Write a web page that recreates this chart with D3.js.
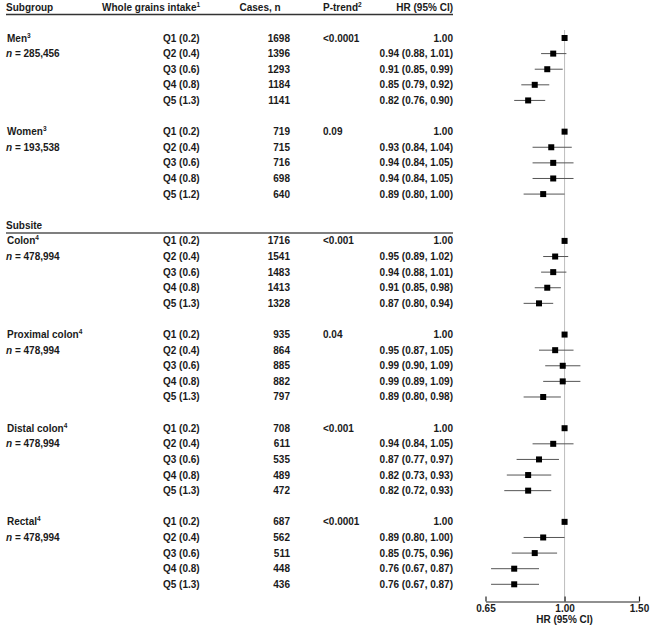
<!DOCTYPE html>
<html>
<head>
<meta charset="utf-8">
<script src="https://cdn.jsdelivr.net/npm/d3@7"></script>
<style>
  html, body { margin: 0; padding: 0; background: #fff; }
  svg text { font-family: "Liberation Sans", Arial, sans-serif; font-size: 10px; fill: #1a1a1a; font-weight: bold; }
</style>
</head>
<body>
<svg id="chart" width="650" height="625"></svg>
<script>
// ---- Data ----
const groupNames = ["Men", "Women", "Colon", "Proximal colon", "Distal colon", "Rectal"];
const groupSup = ["3", "3", "4", "4", "4", "4"];
const groupN = ["285,456", "193,538", "478,994", "478,994", "478,994", "478,994"];
const groupPtrend = ["<0.0001", "0.09", "<0.001", "0.04", "<0.001", "<0.0001"];
const quintiles = ["Q1", "Q2", "Q3", "Q4", "Q5"];
const intakes = [
  ["0.2", "0.4", "0.6", "0.8", "1.3"],
  ["0.2", "0.4", "0.6", "0.8", "1.2"],
  ["0.2", "0.4", "0.6", "0.8", "1.3"],
  ["0.2", "0.4", "0.6", "0.8", "1.3"],
  ["0.2", "0.4", "0.6", "0.8", "1.3"],
  ["0.2", "0.4", "0.6", "0.8", "1.3"]
];
const cases = [
  [1698, 1396, 1293, 1184, 1141],
  [719, 715, 716, 698, 640],
  [1716, 1541, 1483, 1413, 1328],
  [935, 864, 885, 882, 797],
  [708, 611, 535, 489, 472],
  [687, 562, 511, 448, 436]
];
const hr = [
  [1.00, 0.94, 0.91, 0.85, 0.82],
  [1.00, 0.93, 0.94, 0.94, 0.89],
  [1.00, 0.95, 0.94, 0.91, 0.87],
  [1.00, 0.95, 0.99, 0.99, 0.89],
  [1.00, 0.94, 0.87, 0.82, 0.82],
  [1.00, 0.89, 0.85, 0.76, 0.76]
];
const ciLow = [
  [null, 0.88, 0.85, 0.79, 0.76],
  [null, 0.84, 0.84, 0.84, 0.80],
  [null, 0.89, 0.88, 0.85, 0.80],
  [null, 0.87, 0.90, 0.89, 0.80],
  [null, 0.84, 0.77, 0.73, 0.72],
  [null, 0.80, 0.75, 0.67, 0.67]
];
const ciHigh = [
  [null, 1.01, 0.99, 0.92, 0.90],
  [null, 1.04, 1.05, 1.05, 1.00],
  [null, 1.02, 1.01, 0.98, 0.94],
  [null, 1.05, 1.09, 1.09, 0.98],
  [null, 1.05, 0.97, 0.93, 0.93],
  [null, 1.00, 0.96, 0.87, 0.87]
];
// starting row slot of each group (one empty slot between groups, plus "Subsite" header slot)
const groupStartRow = [0, 6, 13, 19, 25, 31];
const subsiteRow = 12;
const xTicks = [0.65, 1.00, 1.50];
const xTickLabels = ["0.65", "1.00", "1.50"];

// ---- Layout ----
const svg = d3.select("#chart");
const y = d3.scaleLinear().domain([0, 35]).range([38, 584.3]);
const x = d3.scaleLog().domain([0.65, 1.5]).range([485.5, 639]);
const colSub = 6, colQ = 163, colCases = 290, colP = 323, colHR = 453;
const axisY = 601.5;
const fmt2 = d3.format(".2f");

// Header
const header = svg.append("g");
header.append("text").attr("x", colSub).attr("y", 10.5).text("Subgroup");
const wg = header.append("text").attr("x", 102).attr("y", 10.5).text("Whole grains intake");
wg.append("tspan").attr("dy", -4).style("font-size", "6.5px").text("1");
header.append("text").attr("x", 239.5).attr("y", 10.5).text("Cases, n");
const pt = header.append("text").attr("x", colP).attr("y", 10.5).text("P-trend");
pt.append("tspan").attr("dy", -4).style("font-size", "6.5px").text("2");
header.append("text").attr("x", colHR).attr("y", 10.5).attr("text-anchor", "end").text("HR (95% CI)");
header.append("line").attr("x1", colSub).attr("x2", colHR).attr("y1", 14.5).attr("y2", 14.5)
  .attr("stroke", "#333").attr("stroke-width", 1.6);

// Subsite header
svg.append("text").attr("x", colSub).attr("y", y(subsiteRow) + 3.5).text("Subsite");
svg.append("line").attr("x1", colSub).attr("x2", colHR).attr("y1", 233).attr("y2", 233)
  .attr("stroke", "#555").attr("stroke-width", 1.4);

// Reference line at HR = 1
svg.append("line").attr("x1", x(1)).attr("x2", x(1)).attr("y1", 30).attr("y2", axisY)
  .attr("stroke", "#bdbdbd").attr("stroke-width", 1);

// Groups
groupNames.forEach((name, g) => {
  const r0 = groupStartRow[g];
  const gl = svg.append("g");
  const t = gl.append("text").attr("x", colSub + 1).attr("y", y(r0) + 3.5).text(name);
  t.append("tspan").attr("dy", -4).style("font-size", "6.5px").text(groupSup[g]);
  const nt = gl.append("text").attr("x", colSub).attr("y", y(r0 + 1) + 3.5);
  nt.append("tspan").style("font-style", "italic").text("n");
  nt.append("tspan").text(" = " + groupN[g]);
  gl.append("text").attr("x", colP).attr("y", y(r0) + 3.5).text(groupPtrend[g]);

  quintiles.forEach((q, i) => {
    const yy = y(r0 + i);
    gl.append("text").attr("x", colQ).attr("y", yy + 3.5).text(q + " (" + intakes[g][i] + ")");
    gl.append("text").attr("x", colCases).attr("y", yy + 3.5).attr("text-anchor", "end").text(cases[g][i]);
    const lab = ciLow[g][i] == null ? fmt2(hr[g][i])
      : fmt2(hr[g][i]) + " (" + fmt2(ciLow[g][i]) + ", " + fmt2(ciHigh[g][i]) + ")";
    gl.append("text").attr("x", colHR).attr("y", yy + 3.5).attr("text-anchor", "end").text(lab);
    if (ciLow[g][i] != null) {
      gl.append("line").attr("x1", x(ciLow[g][i])).attr("x2", x(ciHigh[g][i]))
        .attr("y1", yy).attr("y2", yy).attr("stroke", "#555").attr("stroke-width", 1);
    }
    const s = 6;
    gl.append("rect").attr("x", x(hr[g][i]) - s / 2).attr("y", yy - s / 2)
      .attr("width", s).attr("height", s).attr("fill", "#000");
  });
});

// Axis
const axis = d3.axisBottom(x).tickValues(xTicks).tickFormat((d, i) => xTickLabels[i])
  .tickSizeInner(-5).tickSizeOuter(0).tickPadding(3.5);
const ax = svg.append("g").attr("transform", `translate(0,${axisY})`).call(axis);
ax.select(".domain").attr("stroke", "#222").attr("stroke-width", 1.2);
ax.selectAll(".tick line").attr("stroke", "#222").attr("stroke-width", 1.2);
ax.selectAll(".tick text").style("font-family", "Liberation Sans, Arial, sans-serif")
  .style("font-size", "10px").style("font-weight", "bold").attr("fill", "#1a1a1a");
svg.append("text").attr("x", x(1)).attr("y", 622.5).attr("text-anchor", "middle").text("HR (95% CI)");
</script>
</body>
</html>
